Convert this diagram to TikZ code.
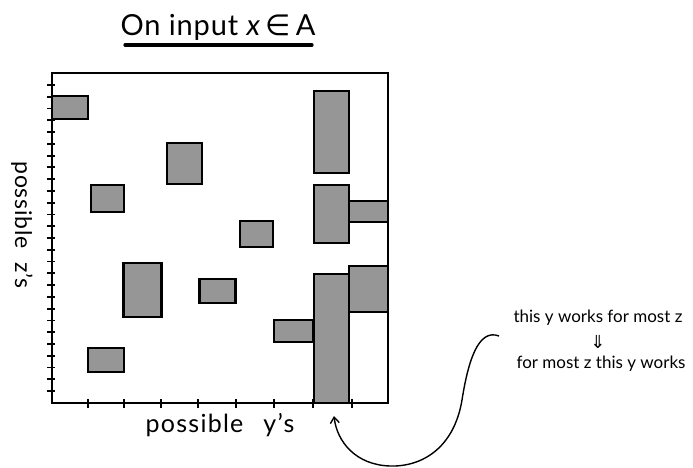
\documentclass[tikz,border=0pt]{standalone}
\usepackage{fontspec}
\setmainfont{Lato}
\newfontfamily\symf{DejaVu Sans}
\usetikzlibrary{arrows.meta}
\definecolor{cellgray}{RGB}{150,150,150}
\tikzset{
  cell/.style={draw=black, fill=cellgray, line width=2.8pt, inner sep=0pt, outer sep=0pt},
  frame/.style={draw=black, line width=2.8pt},
  tick/.style={line width=1.8pt},
  lbl/.style={inner sep=0pt, font=\fontsize{25}{27}\selectfont\addfontfeatures{LetterSpace=5}},
  note/.style={inner sep=0pt, font=\fontsize{17}{19}\selectfont},
  curvearrow/.style={line width=1.4pt, -{Straight Barb[length=6pt,width=9pt]}}
}
\begin{document}
\begin{tikzpicture}[x=1pt,y=-1pt]
\useasboundingbox (0,0) rectangle (693,468);
% title
\node[inner sep=0pt, font=\fontsize{29}{31}\selectfont\addfontfeatures{LetterSpace=3}] (title) at (218,27) {On input \textit{x}\,{\symf ∈}\,A};
\coordinate (ul1) at (125,45);
\coordinate (ul2) at (312,45);
\draw[line width=3.2pt, line cap=round] (ul1) -- (ul2);
% frame
\coordinate (fTL) at (52,73);
\coordinate (fBR) at (388,403);
% left ticks
\foreach \k in {0,...,26}{
  \draw[tick] (47,{85+\k*11.77}) -- (55,{85+\k*11.77});
}
% bottom ticks
\foreach \xx in {88,124,161,198,236,274,313,352}{
  \draw[tick] (\xx,399) -- (\xx,408);
}
% cells
\node[cell, minimum width=36pt, minimum height=23pt] (r1) at (70,107.5) {};
\node[cell, minimum width=35pt, minimum height=41pt] (r2) at (184.5,163.5) {};
\node[cell, minimum width=33pt, minimum height=27pt] (r3) at (107.5,198.5) {};
\node[cell, minimum width=33pt, minimum height=26pt] (r4) at (256.5,234) {};
\node[cell, minimum width=38pt, minimum height=54pt] (r5) at (142.5,290) {};
\node[cell, minimum width=36pt, minimum height=24pt] (r6) at (217.5,291) {};
\node[cell, minimum width=39pt, minimum height=22pt] (r7) at (293.5,331) {};
\node[cell, minimum width=36pt, minimum height=24pt] (r8) at (106,360) {};
\node[cell, minimum width=35pt, minimum height=82pt] (r9) at (331.5,132) {};
\node[cell, minimum width=35pt, minimum height=58pt] (r10) at (331.5,214) {};
\node[cell, minimum width=39pt, minimum height=21pt] (r11) at (368.5,211.5) {};
\node[cell, minimum width=39pt, minimum height=46pt] (r13) at (368.5,289) {};
\node[cell, minimum width=35pt, minimum height=129pt] (r12) at (331.5,338.5) {};
\draw[frame] (fTL) rectangle (fBR);
% axis labels
\node[lbl] (ylab) at (220,425) {possible\hspace{20pt}y's};
\node[inner sep=0pt, rotate=-90, font=\fontsize{23}{25}\selectfont\addfontfeatures{LetterSpace=3}] (zlab) at (22,225) {possible\hspace{14pt}z's};
% annotation
\node[note] (n1) at (598,318) {this y works for most z};
\node[inner sep=0pt, font=\symf\fontsize{18}{20}\selectfont] (n2) at (598,342) {⇓};
\node[note] (n3) at (601,364) {for most z this y works};
\coordinate (cstart) at (499,336);
\coordinate (ctip) at (334,416);
\draw[curvearrow] (cstart) .. controls (478,328) and (468,362) .. (462,400)
  .. controls (454,448) and (422,467) .. (390,466)
  .. controls (356,465) and (337,442) .. (ctip);
\end{tikzpicture}
\end{document}
